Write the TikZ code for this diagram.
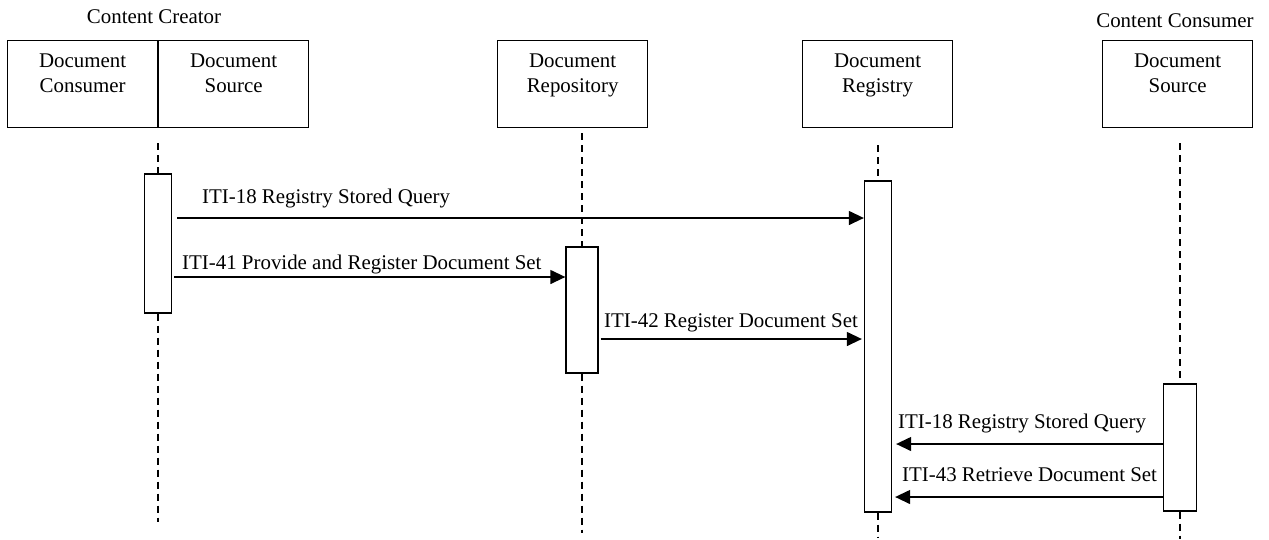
\documentclass[tikz,border=0pt]{standalone}
\usepackage{fontspec}
\setmainfont{Liberation Serif}
\newfontfamily\tnrfont{Liberation Serif}
\usetikzlibrary{arrows.meta}
\begin{document}
\begin{tikzpicture}[x=1pt,y=-1pt,
  every node/.style={font=\tnrfont\fontsize{20.9}{25}\selectfont},
  actor/.style={draw, line width=1.3pt, minimum width=150pt, minimum height=87pt, inner sep=0pt, anchor=north west},
  lbl/.style={align=center, inner sep=0pt, anchor=north, yshift=-14pt},
  act/.style={draw, fill=white, line width=1.3pt, inner sep=0pt},
  life/.style={line width=1.3pt, dash pattern=on 7pt off 5pt},
  msg/.style={line width=1.3pt, -{Triangle[length=15pt,width=14pt]}},
  mlbl/.style={anchor=base west, inner sep=0pt}]
\useasboundingbox (0,0) rectangle (1269,539);

% actor boxes
\node[actor] (cons) at (7,40) {};
\node[actor] (srcA) at (158,40) {};
\node[actor] (repo) at (497,40) {};
\node[actor] (reg)  at (802,40) {};
\node[actor] (srcB) at (1102,40) {};

\node[lbl] (consT) at (cons.north) {Document\\Consumer};
\node[lbl] (srcAT) at (srcA.north) {Document\\Source};
\node[lbl] (repoT) at (repo.north) {Document\\Repository};
\node[lbl] (regT)  at (reg.north)  {Document\\Registry};
\node[lbl] (srcBT) at (srcB.north) {Document\\Source};

\node[anchor=base, inner sep=0pt] (creator) at (154,23) {Content Creator};
\node[anchor=base, inner sep=0pt] (consumer) at (1175,27) {Content Consumer};

% lifeline end points
\coordinate (lS1) at (158,143);
\coordinate (lS2) at (158,522);
\coordinate (lR1) at (582,133);
\coordinate (lR2) at (582,533);
\coordinate (lG1) at (878,145);
\coordinate (lG2) at (878,537);
\coordinate (lC1) at (1180,143);
\coordinate (lC2) at (1180,539);

% activations
\node[act, minimum width=27pt, minimum height=139pt] (aS)   at (158,243.5) {};
\node[act, minimum width=32pt, minimum height=126pt] (aRep) at (582,310) {};
\node[act, minimum width=27pt, minimum height=331pt] (aReg) at (878,346.5) {};
\node[act, minimum width=33pt, minimum height=127pt] (aCon) at (1180,447.5) {};

% lifelines
\draw[life] (lS1) -- (aS.north);
\draw[life] (aS.south) -- (lS2);
\draw[life] (lR1) -- (aRep.north);
\draw[life] (aRep.south) -- (lR2);
\draw[life] (lG1) -- (aReg.north);
\draw[life] (aReg.south) -- (lG2);
\draw[life] (lC1) -- (aCon.north);
\draw[life] (aCon.south) -- (lC2);

% messages
\draw[msg, shorten <=5pt] (aS.east |- 0,218) -- (aReg.west |- 0,218);
\draw[msg, shorten <=2pt] (aS.east |- 0,277) -- (aRep.west |- 0,277);
\draw[msg, shorten <=2pt, shorten >=2pt] (aRep.east |- 0,339) -- (aReg.west |- 0,339);
\draw[msg, shorten >=4pt] (aCon.west |- 0,444) -- (aReg.east |- 0,444);
\draw[msg, shorten >=3pt] (aCon.west |- 0,497) -- (aReg.east |- 0,497);

% message labels
\node[mlbl] (m1) at (202,203) {ITI-18 Registry Stored Query};
\node[mlbl] (m2) at (182,269) {ITI-41 Provide and Register Document Set};
\node[mlbl] (m3) at (604,327) {ITI-42 Register Document Set};
\node[mlbl] (m4) at (898,428) {ITI-18 Registry Stored Query};
\node[mlbl] (m5) at (902,481) {ITI-43 Retrieve Document Set};
\end{tikzpicture}
\end{document}
